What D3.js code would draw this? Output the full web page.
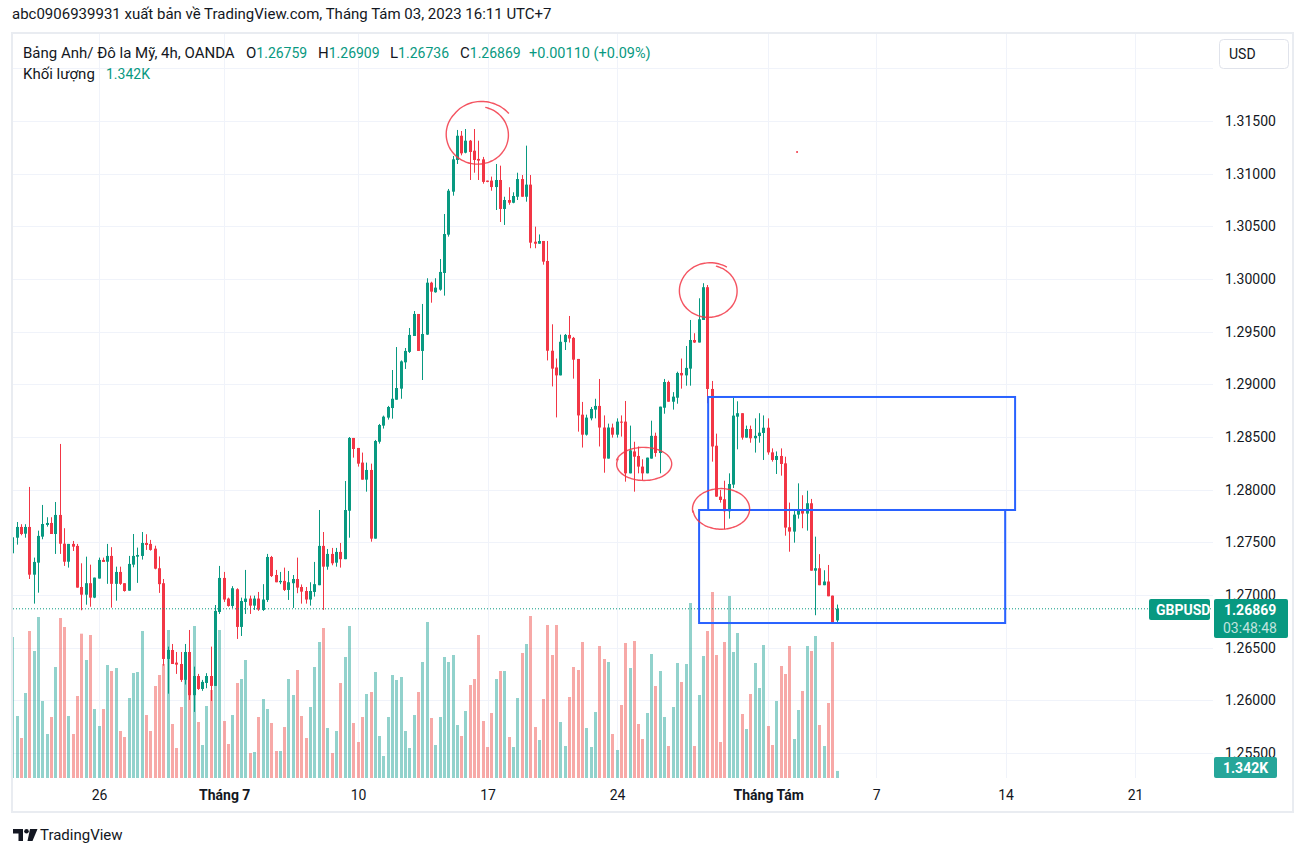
<!DOCTYPE html>
<html><head><meta charset="utf-8">
<script src="https://cdn.jsdelivr.net/npm/d3@7"></script>
<style>
body{margin:0;background:#fff;}
svg{display:block;font-family:Roboto,"Noto Sans",sans-serif;}
</style></head>
<body><svg id="c" width="1307" height="857"></svg>
<script>
// ---------- DATA (GBPUSD 4h, OANDA) ----------
const opens=[1.27396,1.27544,1.27646,1.27582,1.27646,1.27193,1.27307,1.27554,1.27665,1.27684,
1.27579,1.27760,1.27487,1.27316,1.27485,1.27466,1.27076,1.27003,1.27112,1.26975,
1.27156,1.27333,1.27316,1.27371,1.27106,1.27219,1.27112,1.27041,1.27288,1.27364,
1.27371,1.27494,1.27485,1.27440,1.27254,1.27112,1.26393,1.26478,1.26358,1.26345,
1.26194,1.26459,1.26049,1.26231,1.26108,1.26165,1.26231,1.26137,1.26839,1.27162,
1.26966,1.26896,1.27055,1.26697,1.26934,1.26966,1.26899,1.26966,1.26858,1.26953,
1.27361,1.27190,1.27121,1.27134,1.27048,1.27112,1.27152,1.27076,1.27038,1.26957,
1.27029,1.27093,1.27466,1.27269,1.27390,1.27307,1.27409,1.27340,1.27800,1.28491,
1.28396,1.28257,1.28095,1.28187,1.27535,1.28455,1.28608,1.28684,1.28775,1.28854,
1.28959,1.29209,1.29308,1.29459,1.29668,1.29317,1.29472,1.29965,1.29874,1.29899,
1.30057,1.30421,1.30829,1.31130,1.31360,1.31199,1.31313,1.31218,1.31140,1.31136,
1.30934,1.30934,1.30873,1.30940,1.30665,1.30750,1.30724,1.30781,1.30949,1.30781,
1.30896,1.30354,1.30335,1.30361,1.30171,1.29319,1.29160,1.29085,1.29401,1.29469,
1.29441,1.29241,1.28712,1.28522,1.28677,1.28760,1.28795,1.28590,1.28295,1.28590,
1.28522,1.28646,1.28646,1.28155,1.28363,1.28320,1.28219,1.28155,1.28295,1.28511,
1.28348,1.28778,1.29022,1.28835,1.28873,1.29108,1.29085,1.29149,1.29421,1.29397,
1.29611,1.29922,1.28956,1.28417,1.27934,1.27909,1.27795,1.28048,1.28693,1.28726,
1.28494,1.28576,1.28488,1.28509,1.28538,1.28588,1.28354,1.28282,1.28320,1.28250,
1.27643,1.27602,1.27763,1.27807,1.27773,1.27871,1.27231,1.27254,1.27093,1.27128,
1.26994,1.26759];
const highs=[1.27570,1.27693,1.27672,1.27672,1.28026,1.27355,1.27611,1.27855,1.27738,1.27738,
1.27883,1.28434,1.27634,1.27485,1.27513,1.27485,1.27301,1.27364,1.27288,1.27165,
1.27355,1.27355,1.27485,1.27454,1.27269,1.27269,1.27112,1.27371,1.27579,1.27450,
1.27598,1.27577,1.27523,1.27468,1.27366,1.27152,1.26510,1.26535,1.26459,1.26459,
1.26535,1.26668,1.26320,1.26251,1.26194,1.26258,1.26510,1.26905,1.27276,1.27219,
1.26975,1.27084,1.27064,1.26975,1.27238,1.26994,1.26994,1.27029,1.27103,1.27390,
1.27371,1.27238,1.27219,1.27260,1.27228,1.27190,1.27355,1.27100,1.27076,1.27121,
1.27314,1.27807,1.27598,1.27437,1.27447,1.27447,1.27494,1.28082,1.28500,1.28491,
1.28396,1.28352,1.28257,1.28247,1.28472,1.28624,1.28703,1.28795,1.29136,1.29354,
1.29227,1.29345,1.29535,1.29696,1.29668,1.29763,1.30007,1.29974,1.30007,1.30190,
1.30617,1.30855,1.31168,1.31415,1.31405,1.31424,1.31320,1.31424,1.31313,1.31159,
1.30934,1.30972,1.31092,1.31076,1.30781,1.30871,1.30823,1.31009,1.30987,1.31266,
1.30987,1.30497,1.30423,1.30361,1.30361,1.29570,1.29245,1.29472,1.29478,1.29649,
1.29450,1.29241,1.28833,1.28712,1.28785,1.28863,1.29051,1.28705,1.28627,1.28627,
1.28677,1.28705,1.28842,1.28608,1.28455,1.28410,1.28289,1.28304,1.28655,1.28541,
1.28788,1.29051,1.29035,1.28926,1.29120,1.29245,1.29364,1.29611,1.29485,1.29817,
1.29960,1.29943,1.29032,1.28532,1.27997,1.28085,1.28155,1.28883,1.28839,1.28726,
1.28608,1.28608,1.28677,1.28726,1.28705,1.28677,1.28392,1.28363,1.28392,1.28313,
1.27877,1.27807,1.28060,1.27947,1.27990,1.27912,1.27554,1.27388,1.27235,1.27285,
1.26994,1.26909];
const lows=[1.27380,1.27478,1.27567,1.27544,1.27152,1.26918,1.27022,1.27529,1.27649,1.27579,
1.27390,1.27390,1.27276,1.27260,1.27418,1.27070,1.26855,1.26908,1.26889,1.26970,
1.27156,1.27314,1.27106,1.26880,1.26946,1.27096,1.27032,1.27041,1.27263,1.27115,
1.27336,1.27428,1.27421,1.27244,1.27020,1.26329,1.26063,1.26345,1.26251,1.26175,
1.26150,1.26004,1.25890,1.26099,1.26090,1.26115,1.25994,1.26137,1.26820,1.26934,
1.26889,1.26877,1.26583,1.26611,1.26820,1.26820,1.26858,1.26849,1.26849,1.26934,
1.27171,1.27121,1.27103,1.27038,1.26953,1.26877,1.27017,1.26918,1.26918,1.26899,
1.26985,1.27093,1.26858,1.27240,1.27282,1.27269,1.27260,1.27340,1.27544,1.28304,
1.28219,1.28095,1.27981,1.27506,1.27535,1.28437,1.28580,1.28665,1.28674,1.28854,
1.28863,1.29146,1.29298,1.29459,1.29317,1.29041,1.29469,1.29775,1.29870,1.29889,
1.29842,1.30402,1.30791,1.31092,1.31174,1.31193,1.30940,1.31009,1.30940,1.30905,
1.30919,1.30838,1.30655,1.30541,1.30513,1.30705,1.30719,1.30750,1.30781,1.30734,
1.30292,1.30292,1.30335,1.30136,1.29227,1.28980,1.28686,1.29085,1.29326,1.29397,
1.29054,1.28551,1.28400,1.28513,1.28658,1.28677,1.28410,1.28161,1.28295,1.28494,
1.28494,1.28504,1.28076,1.28155,1.27981,1.28155,1.28092,1.28155,1.28295,1.28313,
1.28155,1.28721,1.28835,1.28760,1.28816,1.28959,1.28987,1.28987,1.29393,1.29397,
1.29611,1.28820,1.28266,1.27931,1.27877,1.27624,1.27725,1.28016,1.28383,1.28475,
1.28494,1.28446,1.28352,1.28446,1.28282,1.28332,1.28266,1.28149,1.28133,1.27563,
1.27411,1.27497,1.27725,1.27634,1.27611,1.27231,1.26808,1.27093,1.27093,1.26988,
1.26732,1.26736];
const closes=[1.27548,1.27646,1.27579,1.27646,1.27193,1.27314,1.27561,1.27674,1.27684,1.27579,
1.27760,1.27487,1.27316,1.27485,1.27459,1.27070,1.27003,1.27112,1.26975,1.27165,
1.27333,1.27314,1.27371,1.27106,1.27219,1.27106,1.27038,1.27295,1.27371,1.27380,
1.27494,1.27475,1.27428,1.27250,1.27103,1.26393,1.26478,1.26345,1.26339,1.26194,
1.26459,1.26049,1.26231,1.26108,1.26175,1.26231,1.26137,1.26849,1.27162,1.26957,
1.26896,1.27064,1.26697,1.26943,1.26966,1.26899,1.26966,1.26861,1.26957,1.27361,
1.27180,1.27121,1.27134,1.27048,1.27121,1.27152,1.27070,1.27032,1.26957,1.27038,
1.27103,1.27466,1.27269,1.27390,1.27301,1.27409,1.27340,1.27807,1.28491,1.28386,
1.28247,1.28095,1.28187,1.27535,1.28462,1.28614,1.28693,1.28785,1.28863,1.28965,
1.29218,1.29317,1.29469,1.29668,1.29317,1.29478,1.29965,1.29880,1.29918,1.30067,
1.30427,1.30838,1.31136,1.31360,1.31193,1.31313,1.31206,1.31130,1.31124,1.30922,
1.30922,1.30873,1.30940,1.30665,1.30750,1.30724,1.30788,1.30949,1.30781,1.30896,
1.30345,1.30335,1.30361,1.30165,1.29319,1.29149,1.29085,1.29404,1.29469,1.29435,
1.29234,1.28705,1.28522,1.28684,1.28766,1.28795,1.28590,1.28295,1.28590,1.28522,
1.28646,1.28636,1.28155,1.28373,1.28313,1.28219,1.28155,1.28304,1.28511,1.28348,
1.28788,1.29022,1.28835,1.28883,1.29108,1.29085,1.29156,1.29421,1.29397,1.29618,
1.29922,1.28956,1.28410,1.27934,1.27902,1.27795,1.28054,1.28703,1.28726,1.28494,
1.28576,1.28488,1.28511,1.28541,1.28588,1.28354,1.28282,1.28320,1.28244,1.27640,
1.27602,1.27763,1.27807,1.27773,1.27871,1.27231,1.27254,1.27093,1.27128,1.26988,
1.26741,1.26869];
const volumes=[26790,11780,7600,16150,27930,24130,30590,14630,8360,11590,
21090,30400,28690,11780,8360,15580,27420,22420,27170,13110,
9880,13110,21470,20330,20900,8930,7790,15200,19950,20140,
27930,11970,8930,17480,19570,21660,28120,10260,5700,13490,
18620,20330,28880,10640,6270,13680,16720,23000,28120,10830,
6460,11970,18050,18810,22420,4750,4940,11590,15010,13110,
10450,5130,5130,9690,18810,15770,20520,11780,7600,13490,
21090,25840,28500,9500,4750,8930,18050,22990,28880,10450,
6840,11590,15960,16340,20140,7980,4180,11590,19570,18620,
19190,8930,5700,11970,16340,22040,29640,11400,6270,11590,
22990,22040,23370,10070,7980,12730,17670,18810,27170,10830,
5890,12350,18810,20330,20330,7790,5890,15200,23750,25460,
30780,9690,7220,15010,29070,23370,29070,10640,6080,15390,
21090,20520,25840,9500,5890,12540,25080,22610,22040,8360,
5320,13870,25650,20900,26030,10260,7410,12350,23560,17480,
20330,11590,6080,13490,21850,18240,21660,33250,6080,15770,
23180,27930,35340,23370,6840,25840,34580,23940,27550,12160,
9310,15960,21850,17100,25270,9880,6270,14630,21280,19760,
25080,7410,12920,16530,25080,24130,26980,10070,6080,14250,
25840,1342];

const priceTicks=[1.255,1.26,1.265,1.27,1.275,1.28,1.285,1.29,1.295,1.30,1.305,1.31,1.315];
const gridPrices=[1.255,1.26,1.265,1.27,1.275,1.28,1.285,1.29,1.295,1.30,1.305,1.31,1.315,1.32];
const timeTickIdx=[20,49,80,110,140,175,200,230,260];
const timeTickLabels=["26","Tháng 7","10","17","24","Tháng Tám","7","14","21"];
const timeTickBold=[false,true,false,false,false,true,false,false,false];

// drawings on the chart (bar index / price)
const circles=[
  {i:107.8,p:1.31370,rx:6.95,ry:0.00270,start:-36,sweep:400,r0:1.27,r1:0.99},
  {i:161.2,p:1.29886,rx:6.6,ry:0.00247,start:-55,sweep:380,r0:1.12,r1:0.99},
  {i:146.2,p:1.28244,rx:6.25,ry:0.00152,start:200,sweep:368,r0:1.0,r1:1.04},
  {i:164.1,p:1.27817,rx:6.5,ry:0.0019,start:175,sweep:365,r0:1.0,r1:1.02}
];
const redDot={i:181.7,p:1.31206};
const boxes=[
  {i0:161.1,i1:232.2,p0:1.28880,p1:1.27807},
  {i0:159.0,i1:229.9,p0:1.27807,p1:1.26734}
];
const lastClose=1.26869;

// ---------- SCALES ----------
const svg=d3.select("#c");
const PL=12,PR=1213,PT=34,PB=778;
const x=d3.scaleLinear().domain([0,277.35]).range([12.7,1210]);
const y=d3.scaleLinear().domain([1.255,1.315]).range([753,121]);
const vy=d3.scaleLinear().domain([0,40000]).range([PB,PB-40000/190]);
const UP="#089981",DN="#f23645";

// header
svg.append("text").attr("x",12).attr("y",19).attr("font-size",15).attr("fill","#131722")
  .text("abc0906939931 xuất bản về TradingView.com, Tháng Tám 03, 2023 16:11 UTC+7");

// frame
svg.append("rect").attr("x",12).attr("y",33).attr("width",1281).attr("height",779)
  .attr("fill","#fff").attr("stroke","#e9ecf1").attr("stroke-width",2);

// grid
const grid=svg.append("g");
grid.selectAll("line.h").data(gridPrices).join("line")
  .attr("x1",PL+1).attr("x2",PR).attr("y1",d=>Math.round(y(d))+0.5).attr("y2",d=>Math.round(y(d))+0.5)
  .attr("stroke","#f0f3fa").attr("stroke-width",1);
grid.selectAll("line.v").data(timeTickIdx).join("line")
  .attr("x1",d=>Math.round(x(d))+0.5).attr("x2",d=>Math.round(x(d))+0.5).attr("y1",PT).attr("y2",PB)
  .attr("stroke","#f0f3fa").attr("stroke-width",1);

svg.append("clipPath").attr("id","pc").append("rect").attr("x",PL+1).attr("y",PT).attr("width",PR-PL-1).attr("height",PB-PT);
const plot=svg.append("g").attr("clip-path","url(#pc)");

const data=opens.map((o,i)=>({i,o,h:highs[i],l:lows[i],c:closes[i],v:volumes[i]}));
const bx=d=>Math.round(x(d.i)-1.5);

// volume
plot.append("g").selectAll("rect").data(data).join("rect")
  .attr("x",bx).attr("width",3)
  .attr("y",d=>vy(d.v)).attr("height",d=>PB-vy(d.v))
  .attr("fill",d=>d.c>=d.o?"#26a69a":"#ef5350").attr("fill-opacity",0.5);

// wicks
plot.append("g").selectAll("line").data(data).join("line")
  .attr("x1",d=>bx(d)+1.5).attr("x2",d=>bx(d)+1.5)
  .attr("y1",d=>y(d.h)).attr("y2",d=>y(d.l))
  .attr("stroke",d=>d.c>=d.o?UP:DN).attr("stroke-width",1);
// bodies
plot.append("g").selectAll("rect").data(data).join("rect")
  .attr("x",bx).attr("width",3)
  .attr("y",d=>y(Math.max(d.o,d.c)))
  .attr("height",d=>Math.max(1,Math.abs(y(d.o)-y(d.c))))
  .attr("fill",d=>d.c>=d.o?UP:DN);

// last price dotted line
svg.append("line").attr("x1",PL+1).attr("x2",PR).attr("y1",y(lastClose)).attr("y2",y(lastClose))
  .attr("stroke",UP).attr("stroke-width",1).attr("stroke-dasharray","1,2");

// drawings
const dr=svg.append("g");
boxes.forEach(b=>{
  dr.append("rect").attr("x",x(b.i0)).attr("y",y(b.p0)).attr("width",x(b.i1)-x(b.i0)).attr("height",y(b.p1)-y(b.p0))
    .attr("fill","none").attr("stroke","#2962ff").attr("stroke-width",2);
});
const pxPerBar=x(1)-x(0);
circles.forEach(c=>{
  const cx=x(c.i), cy=y(c.p), rx=c.rx*pxPerBar, ry=Math.abs(y(c.p+c.ry)-cy);
  const pts=d3.range(0,81).map(k=>{const t=k/80;const a=(c.start-c.sweep*t)*Math.PI/180;
    const s=c.r0+(c.r1-c.r0)*Math.min(1,t*4)*0.6+(c.r1-c.r0)*t*0.4;
    return [cx+rx*s*Math.cos(a),cy+ry*s*Math.sin(a)];});
  dr.append("path").attr("d",d3.line().curve(d3.curveCatmullRom)(pts))
    .attr("fill","none").attr("stroke","#f23645").attr("stroke-opacity",0.85).attr("stroke-width",1.4);
});
dr.append("circle").attr("cx",x(redDot.i)).attr("cy",y(redDot.p)).attr("r",1).attr("fill","#f23645");

// price axis
const ya=svg.append("g").attr("transform",`translate(${PR},0)`)
  .call(d3.axisRight(y).tickValues(priceTicks).tickSize(0).tickPadding(12).tickFormat(d3.format(".5f")));
ya.select(".domain").remove();
ya.selectAll("text").attr("font-size",14).attr("fill","#131722").attr("font-family","Roboto,sans-serif");

// time axis
const xa=svg.append("g").attr("transform",`translate(0,${PB})`)
  .call(d3.axisBottom(x).tickValues(timeTickIdx).tickSize(0).tickPadding(12).tickFormat((d,k)=>timeTickLabels[k]));
xa.select(".domain").remove();
xa.selectAll("text").attr("font-size",14).attr("fill","#131722").attr("font-family","Roboto,sans-serif")
  .attr("font-weight",(d,k)=>timeTickBold[k]?"bold":"normal");

// USD button
svg.append("rect").attr("x",1219.5).attr("y",39.5).attr("width",69).attr("height",29).attr("rx",4)
  .attr("fill","#fff").attr("stroke","#e0e3eb");
svg.append("text").attr("x",1229).attr("y",59).attr("font-size",14).attr("fill","#131722").text("USD");

// last-price labels
const lastVol=volumes[volumes.length-1];
svg.append("rect").attr("x",1149).attr("y",599).attr("width",61).attr("height",21).attr("rx",2).attr("fill",UP);
svg.append("text").attr("x",1156).attr("y",615).attr("font-size",14).attr("font-weight","bold").attr("fill","#fff").text("GBPUSD");
svg.append("rect").attr("x",1214).attr("y",599).attr("width",74).attr("height",39).attr("rx",2).attr("fill",UP);
svg.append("text").attr("x",1224).attr("y",615).attr("font-size",14).attr("font-weight","bold").attr("fill","#fff").text(d3.format(".5f")(lastClose));
svg.append("text").attr("x",1223).attr("y",633).attr("font-size",14).attr("fill","#fff").attr("fill-opacity",0.75).text("03:48:48");
svg.append("rect").attr("x",1214).attr("y",757).attr("width",63).attr("height",21).attr("rx",2).attr("fill","#26a69a");
svg.append("text").attr("x",1223).attr("y",773).attr("font-size",14).attr("font-weight","bold").attr("fill","#fff").text((lastVol/1000).toFixed(3)+"K");

// legend
const lg=svg.append("g").attr("font-size",15).attr("fill","#131722");
lg.append("text").attr("x",23).attr("y",58).text("Bảng Anh/ Đô la Mỹ, 4h, OANDA");
const o=opens[191],h=highs[191],l=lows[191],cl=closes[191];
[["O",o,246],["H",h,318],["L",l,390],["C",cl,460]].forEach(([k,v,px])=>{
  const t=lg.append("text").attr("x",px).attr("y",58);
  t.append("tspan").text(k);
  t.append("tspan").attr("fill",UP).attr("font-size",14).text(d3.format(".5f")(v));
});
lg.append("text").attr("x",529).attr("y",58).attr("fill",UP).attr("font-size",14.5).text("+0.00110 (+0.09%)");
lg.append("text").attr("x",23).attr("y",79).text("Khối lượng");
lg.append("text").attr("x",106).attr("y",79).attr("fill",UP).attr("font-size",14).text((lastVol/1000).toFixed(3)+"K");

// TradingView logo
const lo=svg.append("g").attr("fill","#131722");
lo.append("path").attr("d","M13,829 h10 v12 h-4.5 v-7.5 h-5.5 z");
lo.append("circle").attr("cx",26.5).attr("cy",831.3).attr("r",2.3);
lo.append("path").attr("d","M30,829 h7.5 l-5,12 h-5 z");
svg.append("text").attr("x",40).attr("y",840).attr("font-size",15).attr("fill","#131722").text("TradingView");
</script>
</body></html>
